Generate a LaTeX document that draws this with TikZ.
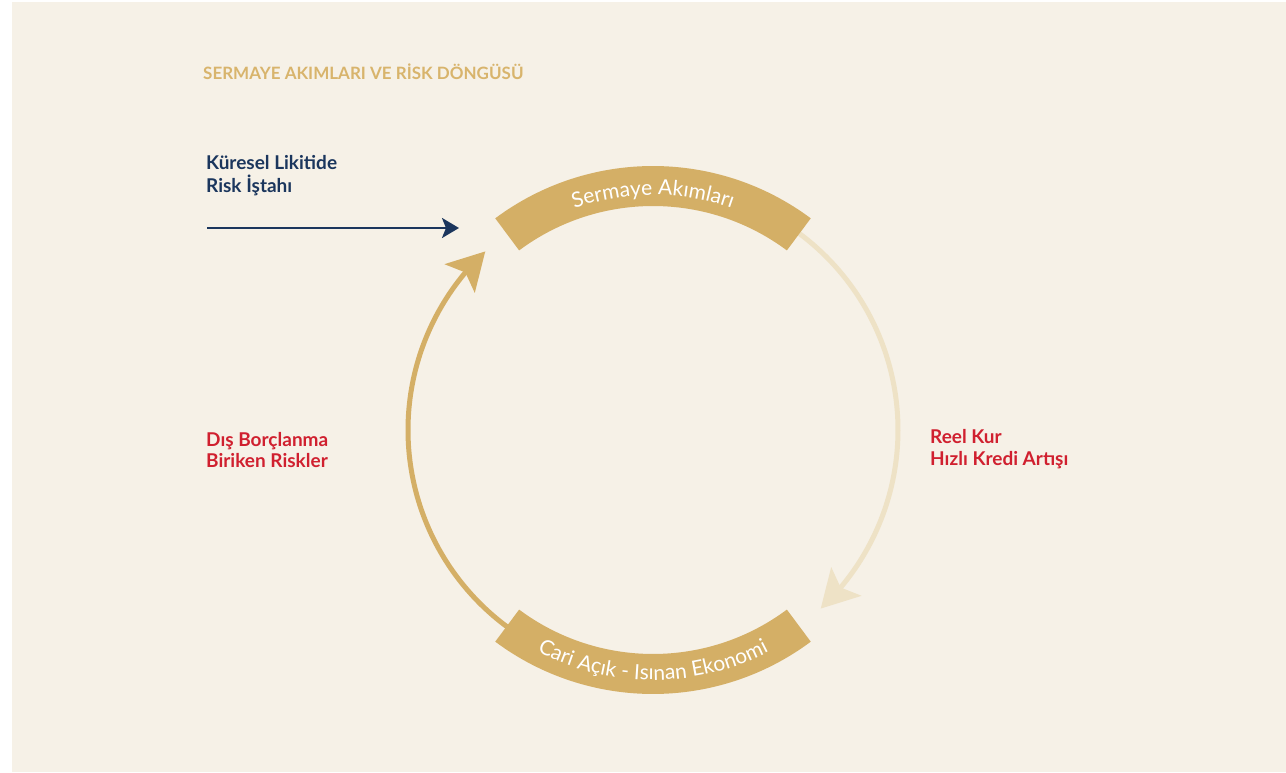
\documentclass[tikz,border=0pt]{standalone}
\usepackage{fontspec}
\setmainfont{Lato}
\usetikzlibrary{arrows.meta,decorations.text,bending}
\definecolor{cream}{HTML}{F6F1E7}
\definecolor{goldc}{HTML}{D4AF66}
\definecolor{palec}{HTML}{EEE2C6}
\definecolor{navyc}{HTML}{1B365D}
\definecolor{redc}{HTML}{D0202F}
\definecolor{titlec}{HTML}{D8B46C}
\newcommand\bandfnt{\fontsize{21}{24}\selectfont}
\tikzset{
  lbl/.style={anchor=base west, inner sep=0pt, font=\bfseries\fontsize{19}{22}\selectfont},
  cyclearc/.style={line width=5pt, -{Stealth[length=37pt,width=41pt,inset=8pt]}},
  band/.style={fill=goldc},
  bandtext/.style={decorate, decoration={text along path, text align=center, text color=white, text={|\bandfnt|#1}}}
}
\begin{document}
\begin{tikzpicture}[x=1pt,y=1pt]
\useasboundingbox (0,0) rectangle (1286,772);
\fill[white] (0,0) rectangle (1286,772);
\fill[cream] (12,0) rectangle (1286,770);
\coordinate (c) at (653,342);

% title and labels
\node[lbl, text=titlec, font=\bfseries\fontsize{17}{20}\selectfont] (title) at (203,692) {SERMAYE AKIMLARI VE RİSK DÖNGÜSÜ};
\node[lbl, text=navyc] (kl1) at (206,602) {Küresel Likitide};
\node[lbl, text=navyc] (kl2) at (206,579) {Risk İştahı};
\node[lbl, text=redc] (db1) at (206,325) {Dış Borçlanma};
\node[lbl, text=redc] (db2) at (206,304) {Biriken Riskler};
\node[lbl, text=redc] (rk1) at (930,328) {Reel Kur};
\node[lbl, text=redc] (rk2) at (930,306) {Hızlı Kredi Artışı};

% inflow arrow
\coordinate (ns) at (207,544);
\coordinate (nt) at (459,544);
\draw[navyc, line width=2.5pt, -{Stealth[length=17pt,width=20pt,inset=4pt]}] (ns) -- (nt);

% cycle arcs
\coordinate (la) at ([shift={(c)}]236:245);
\coordinate (ra) at ([shift={(c)}]53.3:245);
\draw[goldc, cyclearc] (la) arc[start angle=236, end angle=133.2, radius=245];
\draw[palec, cyclearc] (ra) arc[start angle=53.3, end angle=-46.8, radius=245];

% bands
\fill[band] ([shift={(c)}]53.3:264) arc[start angle=53.3, end angle=126.7, radius=264]
  -- ([shift={(c)}]126.7:224) arc[start angle=126.7, end angle=53.3, radius=224] -- cycle;
\fill[band] ([shift={(c)}]233.3:264) arc[start angle=233.3, end angle=306.7, radius=264]
  -- ([shift={(c)}]306.7:224) arc[start angle=306.7, end angle=233.3, radius=224] -- cycle;

\path[bandtext={Sermaye Akımları}] ([shift={(c)}]126.7:235) arc[start angle=126.7, end angle=53.3, radius=235];
\path[bandtext={Cari Açık - Isınan Ekonomi}] ([shift={(c)}]233.3:250) arc[start angle=233.3, end angle=306.7, radius=250];
\end{tikzpicture}
\end{document}
